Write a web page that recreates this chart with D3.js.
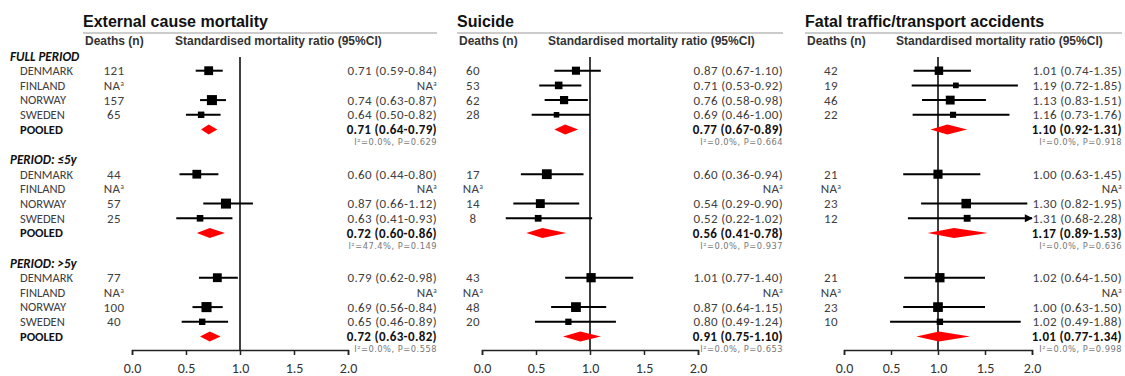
<!DOCTYPE html>
<meta charset="utf-8">
<style>
    body { margin: 0; background: #fff; }
    .title { font-family: "Liberation Sans", Arial, sans-serif; font-weight: bold; font-size: 16px; fill: #111; }
    .head { font-family: "Liberation Sans", Arial, sans-serif; font-weight: bold; font-size: 12px; fill: #333; }
    .lbl { font-family: Carlito, Lato, sans-serif; font-size: 12.5px; fill: #404040; }
    .num { font-family: Carlito, Lato, sans-serif; font-size: 13px; letter-spacing: 0.35px; fill: #404040; }
    .grp { font-family: Carlito, Lato, sans-serif; font-size: 13px; font-weight: bold; font-style: italic; fill: #111; }
    .pool { font-weight: bold; fill: #111; }
    .het { font-family: "DejaVu Sans", sans-serif; font-size: 8.3px; fill: #777; letter-spacing: 0.5px; }
    .axis path, .axis line { stroke: #222; stroke-width: 1.5px; }
    .axis text { font-family: Carlito, Lato, sans-serif; font-size: 14px; fill: #333; }
</style>

<div class="forest"></div>

<script src="https://cdn.jsdelivr.net/npm/d3@7"></script>

<script>
    // ---- data ----
    var groups = ["FULL PERIOD", "PERIOD: \u22645y", "PERIOD: >5y"];
    var countries = ["DENMARK", "FINLAND", "NORWAY", "SWEDEN"];
    var titles = ["External cause mortality", "Suicide", "Fatal traffic/transport accidents"];
    var tickValues = [0, 0.5, 1, 1.5, 2];

    // deaths per group (rows: full, <=5y, >5y; cols: DK, FI, NO, SE), null = NA
    var extDeaths = [[121, null, 157, 65], [44, null, 57, 25], [77, null, 100, 40]];
    var suiDeaths = [[60, 53, 62, 28], [17, null, 14, 8], [43, null, 48, 20]];
    var trfDeaths = [[42, 19, 46, 22], [21, null, 23, 12], [21, null, 23, 10]];

    // SMR [estimate, lower, upper]
    var extSmr = [
        [[0.71, 0.59, 0.84], null, [0.74, 0.63, 0.87], [0.64, 0.50, 0.82]],
        [[0.60, 0.44, 0.80], null, [0.87, 0.66, 1.12], [0.63, 0.41, 0.93]],
        [[0.79, 0.62, 0.98], null, [0.69, 0.56, 0.84], [0.65, 0.46, 0.89]]
    ];
    var suiSmr = [
        [[0.87, 0.67, 1.10], [0.71, 0.53, 0.92], [0.76, 0.58, 0.98], [0.69, 0.46, 1.00]],
        [[0.60, 0.36, 0.94], null, [0.54, 0.29, 0.90], [0.52, 0.22, 1.02]],
        [[1.01, 0.77, 1.40], null, [0.87, 0.64, 1.15], [0.80, 0.49, 1.24]]
    ];
    var trfSmr = [
        [[1.01, 0.74, 1.35], [1.19, 0.72, 1.85], [1.13, 0.83, 1.51], [1.16, 0.73, 1.76]],
        [[1.00, 0.63, 1.45], null, [1.30, 0.82, 1.95], [1.31, 0.68, 2.28]],
        [[1.02, 0.64, 1.50], null, [1.00, 0.63, 1.50], [1.02, 0.49, 1.88]]
    ];

    // pooled [estimate, lower, upper]
    var extPooled = [[0.71, 0.64, 0.79], [0.72, 0.60, 0.86], [0.72, 0.63, 0.82]];
    var suiPooled = [[0.77, 0.67, 0.89], [0.56, 0.41, 0.78], [0.91, 0.75, 1.10]];
    var trfPooled = [[1.10, 0.92, 1.31], [1.17, 0.89, 1.53], [1.01, 0.77, 1.34]];

    // heterogeneity [I2 %, P]
    var extHet = [[0.0, 0.629], [47.4, 0.149], [0.0, 0.558]];
    var suiHet = [[0.0, 0.664], [0.0, 0.937], [0.0, 0.653]];
    var trfHet = [[0.0, 0.918], [0.0, 0.636], [0.0, 0.998]];

    // ---- layout ----
    var width = 1125, height = 376;
    var panels = [
        {title: titles[0], deaths: extDeaths, smr: extSmr, pooled: extPooled, het: extHet,
            left: 83, right: 437, smrHead: 175, deathsX: 114, x0: 132, x1: 348},
        {title: titles[1], deaths: suiDeaths, smr: suiSmr, pooled: suiPooled, het: suiHet,
            left: 457, right: 783, smrHead: 548, deathsX: 473, x0: 482, x1: 698},
        {title: titles[2], deaths: trfDeaths, smr: trfSmr, pooled: trfPooled, het: trfHet,
            left: 805, right: 1122, smrHead: 896, deathsX: 831, x0: 844, x1: 1032}
    ];

    var groupTop = 56, groupStep = 103.5, rowStep = 14.7, axisY = 350;
    function rowY(g, r) { return groupTop + g * groupStep + r * rowStep; }

    var svg = d3.select('.forest')
        .append("svg")
        .attr("width", width)
        .attr("height", height);

    svg.append("defs").append("marker")
        .attr("id", "arrow")
        .attr("viewBox", "0 0 10 10")
        .attr("refX", 9).attr("refY", 5)
        .attr("markerWidth", 5).attr("markerHeight", 4)
        .attr("markerUnits", "strokeWidth")
        .attr("orient", "auto")
        .append("path").attr("d", "M0,0L10,5L0,10Z").attr("fill", "#000");

    // row labels (left)
    groups.forEach(function (g, gi) {
        svg.append("text").attr("class", "grp")
            .attr("x", 10).attr("y", rowY(gi, 0)).attr("dy", "0.35em").text(g);
        countries.forEach(function (c, ci) {
            svg.append("text").attr("class", "lbl")
                .attr("x", 20).attr("y", rowY(gi, ci + 1)).attr("dy", "0.35em").text(c);
        });
        svg.append("text").attr("class", "lbl pool")
            .attr("x", 20).attr("y", rowY(gi, 5)).attr("dy", "0.35em").text("POOLED");
    });

    var fmt = d3.format(".2f");
    function ciText(d) { return fmt(d[0]) + " (" + fmt(d[1]) + "-" + fmt(d[2]) + ")"; }
    function naText(sel) {
        sel.text("NA");
        sel.append("tspan").attr("baseline-shift", "super").attr("font-size", "7px").text("a");
    }

    panels.forEach(function (p) {
        var x = d3.scaleLinear().domain([0, 2]).range([p.x0, p.x1]);
        var g = svg.append("g");

        g.append("text").attr("class", "title").attr("x", p.left).attr("y", 27).text(p.title);
        g.append("line").attr("x1", p.left).attr("x2", p.right).attr("y1", 33).attr("y2", 33)
            .attr("stroke", "#999").attr("stroke-width", 1);
        g.append("text").attr("class", "head").attr("x", p.left + 2).attr("y", 45).text("Deaths (n)");
        g.append("text").attr("class", "head").attr("x", p.smrHead).attr("y", 45)
            .text("Standardised mortality ratio (95%CI)");

        // reference line at 1
        g.append("line").attr("x1", x(1)).attr("x2", x(1)).attr("y1", 57).attr("y2", axisY)
            .attr("stroke", "#000").attr("stroke-width", 1.5);

        g.append("g").attr("class", "axis")
            .attr("transform", "translate(0," + axisY + ")")
            .call(d3.axisBottom(x).tickValues(tickValues).tickFormat(d3.format(".1f"))
                .tickSizeInner(5).tickSizeOuter(5).tickPadding(8));

        p.deaths.forEach(function (row, gi) {
            var total = d3.sum(row);
            var size = d3.scaleSqrt().domain([0, 0.5]).range([0, 10.5]);

            row.forEach(function (n, ci) {
                var y = rowY(gi, ci + 1);
                var dt = g.append("text").attr("class", "num").attr("text-anchor", "middle")
                    .attr("x", p.deathsX).attr("y", y).attr("dy", "0.35em");
                var rt = g.append("text").attr("class", "num").attr("text-anchor", "end")
                    .attr("x", p.right).attr("y", y).attr("dy", "0.35em");
                var s = p.smr[gi][ci];
                if (n == null || s == null) {
                    naText(dt); naText(rt);
                    return;
                }
                dt.text(n);
                rt.text(ciText(s));

                var hi = Math.min(s[2], 2);
                var ln = g.append("line")
                    .attr("x1", x(s[1])).attr("x2", x(hi)).attr("y1", y).attr("y2", y)
                    .attr("stroke", "#000").attr("stroke-width", 2);
                if (s[2] > 2) ln.attr("marker-end", "url(#arrow)");

                var w = size(n / total);
                g.append("rect")
                    .attr("x", x(s[0]) - w / 2).attr("y", y - w / 2)
                    .attr("width", w).attr("height", w).attr("fill", "#000");
            });

            // pooled
            var py = rowY(gi, 5), pd = p.pooled[gi];
            g.append("path")
                .attr("d", "M" + x(pd[1]) + "," + py + "L" + x(pd[0]) + "," + (py - 5) +
                    "L" + x(pd[2]) + "," + py + "L" + x(pd[0]) + "," + (py + 5) + "Z")
                .attr("fill", "#ff0000");
            g.append("text").attr("class", "num pool").attr("text-anchor", "end")
                .attr("x", p.right).attr("y", py).attr("dy", "0.35em").text(ciText(pd));

            var h = p.het[gi];
            g.append("text").attr("class", "het").attr("text-anchor", "end")
                .attr("x", p.right).attr("y", py + 13).attr("dy", "0.35em")
                .text("I\u00b2=" + d3.format(".1f")(h[0]) + "%, P=" + d3.format(".3f")(h[1]));
        });
    });
</script>
